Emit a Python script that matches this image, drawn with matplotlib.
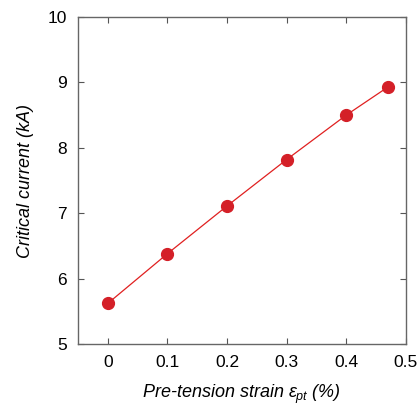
import matplotlib
matplotlib.use("Agg")
import matplotlib.pyplot as plt

strain = [0.0, 0.1, 0.2, 0.3, 0.4, 0.47]
current = [5.62, 6.38, 7.11, 7.82, 8.50, 8.93]

plt.rcParams['font.family'] = ['Liberation Sans', 'DejaVu Sans']
plt.rcParams['mathtext.fontset'] = 'custom'
plt.rcParams['mathtext.it'] = 'Liberation Sans:italic'
plt.rcParams['mathtext.rm'] = 'Liberation Sans'

fig = plt.figure(figsize=(4.17, 4.08), dpi=100)
ax = fig.add_axes([0.187, 0.157, 0.786, 0.801])

ax.plot(strain, current, '-', color='#e02020', lw=0.9)
ax.plot(strain, current, 'o', color='#d42028', ms=8.5)

ax.set_xlim(-0.05, 0.5)
ax.set_ylim(5, 10)
ax.set_xticks([0, 0.1, 0.2, 0.3, 0.4, 0.5])
ax.set_xticklabels(['0', '0.1', '0.2', '0.3', '0.4', '0.5'])
ax.set_yticks([5, 6, 7, 8, 9, 10])

ax.tick_params(direction='in', top=True, right=True, length=4, width=0.8,
               color='#555555', labelsize=12.5, pad=8)
for s in ax.spines.values():
    s.set_color('#666666')
    s.set_linewidth(1.0)

ax.set_xlabel(r'Pre-tension strain $\mathit{\varepsilon_{pt}}$ (%)', fontsize=13,
              style='italic', labelpad=9)
ax.set_ylabel('Critical current (kA)', fontsize=13, style='italic', labelpad=10)

fig.savefig('out.png', dpi=100)
